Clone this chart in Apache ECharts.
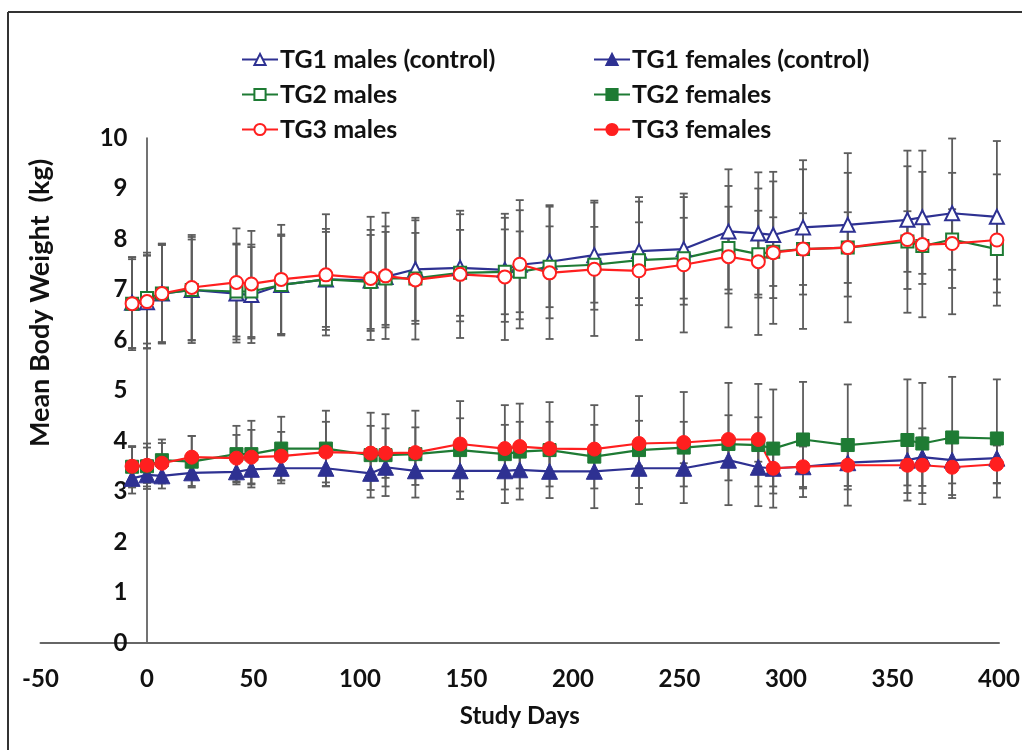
<!DOCTYPE html>
<html>
<head>
<meta charset="utf-8">
<script src="https://cdn.jsdelivr.net/npm/echarts@6.0.0/dist/echarts.min.js"></script>
<style>
  html, body { margin: 0; padding: 0; background: #fff; }
  #chart { width: 1022px; height: 750px; }
</style>
</head>
<body>
<div id="chart"></div>
<script>
// study days of each weighing
const days = [-7, 0, 7, 21, 42, 49, 63, 84, 105, 112, 126, 147, 168, 175, 189, 210, 231, 252, 273, 287, 294, 308, 329, 357, 364, 378, 399];

// mean body weight (kg)
const tg1Males = [6.74, 6.75, 6.92, 6.99, 6.92, 6.89, 7.09, 7.20, 7.18, 7.25, 7.40, 7.43, 7.39, 7.49, 7.55, 7.68, 7.76, 7.80, 8.15, 8.11, 8.08, 8.23, 8.28, 8.38, 8.43, 8.51, 8.44];
const tg2Males = [6.72, 6.83, 6.92, 6.99, 6.96, 6.96, 7.09, 7.20, 7.15, 7.22, 7.22, 7.33, 7.35, 7.35, 7.45, 7.49, 7.58, 7.62, 7.82, 7.70, 7.75, 7.80, 7.83, 7.95, 7.86, 7.99, 7.80];
const tg3Males = [6.72, 6.76, 6.92, 7.04, 7.14, 7.11, 7.20, 7.29, 7.22, 7.27, 7.19, 7.30, 7.25, 7.50, 7.33, 7.40, 7.37, 7.49, 7.65, 7.55, 7.73, 7.80, 7.83, 7.99, 7.89, 7.91, 7.98];
const tg1Females = [3.26, 3.33, 3.31, 3.37, 3.39, 3.44, 3.46, 3.46, 3.36, 3.48, 3.41, 3.41, 3.41, 3.43, 3.40, 3.40, 3.46, 3.46, 3.62, 3.48, 3.46, 3.49, 3.57, 3.62, 3.68, 3.62, 3.66];
const tg2Females = [3.49, 3.50, 3.62, 3.59, 3.74, 3.74, 3.85, 3.85, 3.72, 3.72, 3.74, 3.82, 3.74, 3.79, 3.82, 3.69, 3.82, 3.87, 3.94, 3.92, 3.85, 4.03, 3.92, 4.02, 3.95, 4.07, 4.05];
const tg3Females = [3.50, 3.52, 3.56, 3.68, 3.66, 3.68, 3.70, 3.78, 3.76, 3.76, 3.77, 3.94, 3.85, 3.89, 3.85, 3.84, 3.95, 3.97, 4.03, 4.03, 3.46, 3.49, 3.52, 3.52, 3.52, 3.48, 3.54];

// standard deviations (error bars)
const sdTg1Males = [0.90, 0.92, 0.98, 1.05, 0.97, 0.95, 1.00, 1.00, 1.00, 1.00, 1.02, 1.06, 1.03, 1.08, 1.12, 1.08, 1.07, 1.10, 1.23, 1.21, 1.25, 1.33, 1.42, 1.37, 1.32, 1.48, 1.50];
const sdTg2Males = [0.88, 0.90, 0.96, 1.00, 0.95, 0.93, 0.97, 0.94, 0.93, 0.92, 0.90, 0.85, 0.84, 0.80, 0.80, 0.75, 0.75, 0.80, 0.82, 0.86, 0.68, 0.71, 0.70, 0.60, 0.55, 0.60, 0.60];
const sdTg3Males = [0.92, 0.92, 0.99, 1.04, 1.07, 1.05, 1.08, 1.20, 1.22, 1.25, 1.18, 1.26, 1.25, 1.27, 1.31, 1.32, 1.37, 1.34, 1.40, 1.45, 1.41, 1.58, 1.48, 1.45, 1.44, 1.40, 1.30];
const sdTg1Females = [0.30, 0.23, 0.25, 0.26, 0.25, 0.28, 0.30, 0.35, 0.33, 0.38, 0.28, 0.41, 0.37, 0.37, 0.30, 0.34, 0.39, 0.36, 0.40, 0.38, 0.36, 0.40, 0.46, 0.50, 0.57, 0.46, 0.50];
const sdTg2Females = [0.41, 0.45, 0.41, 0.51, 0.56, 0.66, 0.63, 0.75, 0.84, 0.81, 0.86, 0.97, 0.97, 0.95, 0.95, 1.02, 1.07, 1.10, 1.21, 1.21, 1.17, 1.14, 1.20, 1.20, 1.20, 1.20, 1.17];
const sdTg3Females = [0.38, 0.35, 0.40, 0.42, 0.46, 0.54, 0.48, 0.60, 0.54, 0.49, 0.50, 0.51, 0.47, 0.49, 0.53, 0.48, 0.45, 0.41, 0.48, 0.44, 0.50, 0.43, 0.48, 0.55, 0.55, 0.55, 0.37];

const maleNames = ['TG1 males (control)', 'TG2 males', 'TG3 males'];
const femaleNames = ['TG1 females (control)', 'TG2 females', 'TG3 females'];

const BLUE = '#2e3192';
const GREEN = '#1e7b34';
const RED = '#ff1f1f';
const FONT = 'Lato, "Open Sans", sans-serif';

const chart = echarts.init(document.getElementById('chart'));

function renderErrorBar(params, api) {
  const x = api.value(0);
  const lo = api.coord([x, api.value(1)]);
  const hi = api.coord([x, api.value(2)]);
  const half = 4;
  const style = { stroke: '#5c5c5c', lineWidth: 1.8 };
  return {
    type: 'group',
    children: [
      { type: 'line', shape: { x1: hi[0], y1: hi[1], x2: lo[0], y2: lo[1] }, style },
      { type: 'line', shape: { x1: hi[0] - half, y1: hi[1], x2: hi[0] + half, y2: hi[1] }, style },
      { type: 'line', shape: { x1: lo[0] - half, y1: lo[1], x2: lo[0] + half, y2: lo[1] }, style }
    ]
  };
}

function errorSeries(means, sds) {
  return {
    type: 'custom',
    renderItem: renderErrorBar,
    data: days.map((d, i) => [d, means[i] - sds[i], means[i] + sds[i]]),
    encode: { x: 0, y: [1, 2] },
    silent: true,
    z: 1
  };
}

function lineSeries(name, means, color, symbol, size, empty) {
  return {
    name,
    type: 'line',
    data: days.map((d, i) => [d, means[i]]),
    symbol,
    symbolSize: size,
    showAllSymbol: true,
    lineStyle: { color, width: 2.2 },
    itemStyle: empty
      ? { color: '#fff', borderColor: color, borderWidth: 2 }
      : { color, borderColor: color, borderWidth: 1 },
    emphasis: { disabled: true },
    z: 3
  };
}

const legendText = { fontFamily: FONT, fontWeight: 'bold', fontSize: 25, color: '#111', lineHeight: 27, padding: [0, 0, 0, -3] };

chart.setOption({
  animation: false,
  backgroundColor: '#fff',
  grid: { left: 40.5, right: 23, top: 138, bottom: 107, outerBoundsMode: 'none' },
  legend: [
    {
      data: maleNames, orient: 'vertical', left: 236, top: 41,
      itemWidth: 36, itemHeight: 14, itemGap: 8, textStyle: legendText
    },
    {
      data: femaleNames, orient: 'vertical', left: 588, top: 41,
      itemWidth: 36, itemHeight: 14, itemGap: 8, textStyle: legendText
    }
  ],
  xAxis: {
    type: 'value',
    min: -50,
    max: 400,
    interval: 50,
    name: 'Study Days',
    nameLocation: 'middle',
    nameGap: 61,
    nameTextStyle: { fontFamily: FONT, fontWeight: 'bold', fontSize: 24, color: '#111' },
    axisLine: { onZero: true, lineStyle: { color: '#666', width: 2 } },
    axisTick: { show: false },
    axisLabel: { margin: 24, fontFamily: FONT, fontWeight: 'bold', fontSize: 24, color: '#111' },
    splitLine: { show: false }
  },
  yAxis: {
    type: 'value',
    min: 0,
    max: 10,
    interval: 1,
    axisLine: { show: true, onZero: true, lineStyle: { color: '#444', width: 1.5 } },
    axisTick: { show: false },
    // labels sit just left of the zero-day axis line, as in the reference
    axisLabel: { margin: -87, fontFamily: FONT, fontWeight: 'bold', fontSize: 24, color: '#111' },
    splitLine: { show: false }
  },
  graphic: [
    {
      type: 'line', silent: true,
      shape: { x1: 8, y1: 12, x2: 8, y2: 750 },
      style: { stroke: '#333', lineWidth: 2 }
    },
    {
      type: 'line', silent: true,
      shape: { x1: 8, y1: 12, x2: 1022, y2: 12 },
      style: { stroke: '#333', lineWidth: 2 }
    },
    {
      type: 'text', x: 40, y: 303, rotation: Math.PI / 2,
      style: {
        text: 'Mean Body Weight  (kg)', font: 'bold 27px Lato, sans-serif',
        fill: '#111', align: 'center', verticalAlign: 'middle'
      }
    }
  ],
  series: [
    errorSeries(tg1Males, sdTg1Males),
    errorSeries(tg2Males, sdTg2Males),
    errorSeries(tg3Males, sdTg3Males),
    errorSeries(tg1Females, sdTg1Females),
    errorSeries(tg2Females, sdTg2Females),
    errorSeries(tg3Females, sdTg3Females),
    lineSeries(maleNames[0], tg1Males, BLUE, 'triangle', 14, true),
    lineSeries(maleNames[1], tg2Males, GREEN, 'rect', 12, true),
    lineSeries(maleNames[2], tg3Males, RED, 'circle', 13, true),
    lineSeries(femaleNames[0], tg1Females, BLUE, 'triangle', 16, false),
    lineSeries(femaleNames[1], tg2Females, GREEN, 'rect', 13, false),
    lineSeries(femaleNames[2], tg3Females, RED, 'circle', 14, false)
  ]
});

window.addEventListener('resize', () => chart.resize());
</script>
</body>
</html>
